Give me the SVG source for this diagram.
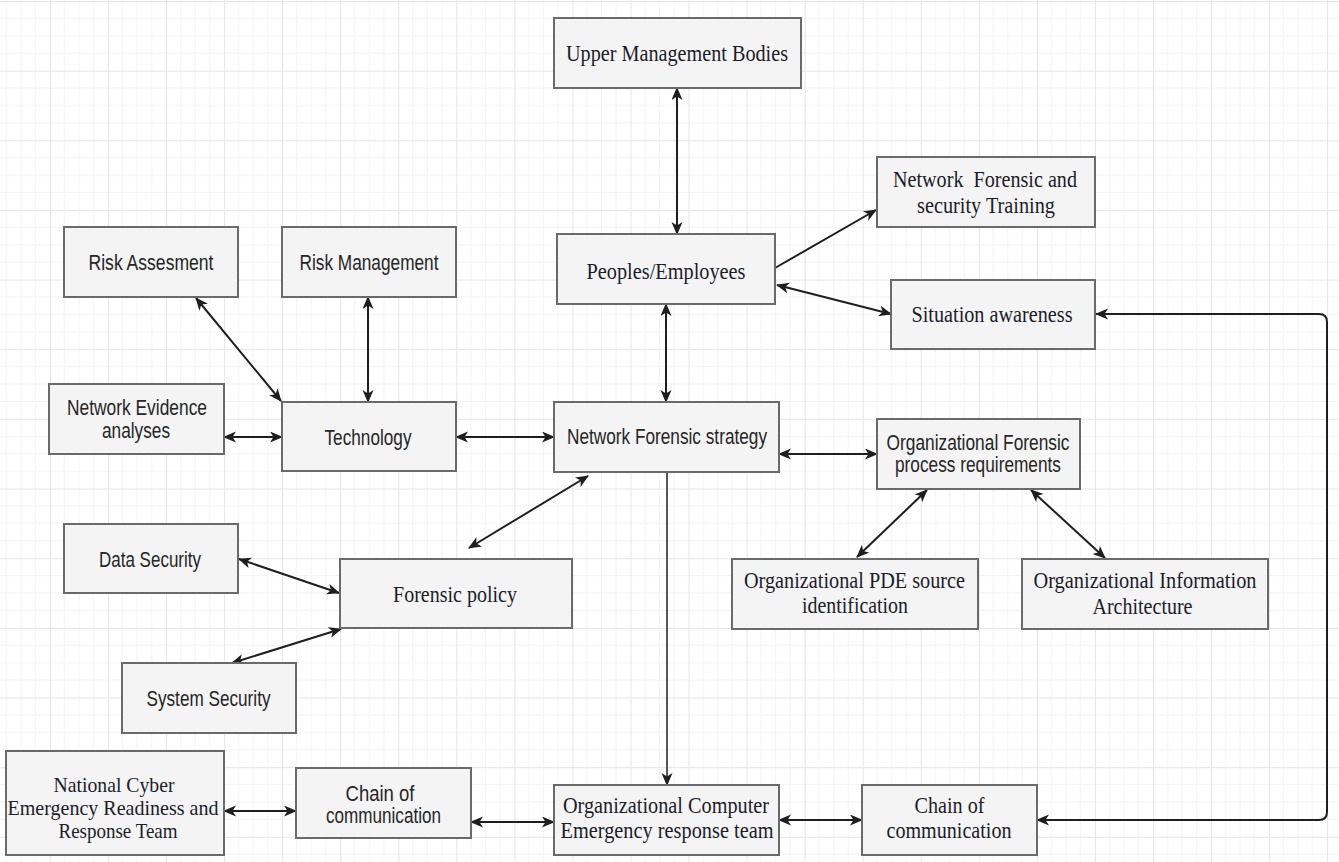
<svg xmlns="http://www.w3.org/2000/svg" width="1339" height="862" viewBox="0 0 1339 862">
  <defs>
    <pattern id="grid" patternUnits="userSpaceOnUse" x="50" y="1" width="58.05" height="69.65">
      <path d="M14.51 0V69.65M29.03 0V69.65M43.54 0V69.65M0 17.41H58.05M0 34.83H58.05M0 52.24H58.05" stroke="#f4f4f4" stroke-width="1" fill="none"/>
      <path d="M0.5 0V69.65M0 0.5H58.05" stroke="#e5e5e5" stroke-width="1" fill="none"/>
    </pattern>
    <marker id="arrow" markerUnits="userSpaceOnUse" markerWidth="14" markerHeight="12" refX="12" refY="5.5" orient="auto-start-reverse">
      <path d="M0,0 L13,5.5 L0,11 L3.5,5.5 Z" fill="#1e1e1e"/>
    </marker>
  </defs>
  <style>
    .box { fill: #f4f4f4; stroke: #6a6a6a; stroke-width: 2; }
    .serif { font-family: "Liberation Serif", "Times New Roman", serif; font-size: 24px; fill: #1c1c2a; text-anchor: middle; }
    .tight { font-size: 21.5px; }
    .sans { font-family: "Liberation Sans", Arial, sans-serif; font-size: 21.5px; fill: #262626; text-anchor: middle; }
    .link { fill: none; stroke: #1e1e1e; stroke-width: 2; }
    .thin { stroke-width: 1.5; }
  </style>

  <rect width="1339" height="862" fill="#ffffff"/>
  <rect width="1339" height="862" fill="url(#grid)"/>

  <g id="connectors">
    <line class="link" x1="677" y1="88" x2="677" y2="234" marker-start="url(#arrow)" marker-end="url(#arrow)"/>
    <line class="link" x1="775" y1="268" x2="876" y2="210" marker-end="url(#arrow)"/>
    <line class="link" x1="777" y1="285" x2="891" y2="314" marker-start="url(#arrow)" marker-end="url(#arrow)"/>
    <line class="link" x1="666" y1="304" x2="666" y2="402" marker-start="url(#arrow)" marker-end="url(#arrow)"/>
    <line class="link" x1="196" y1="298" x2="281" y2="401" marker-start="url(#arrow)" marker-end="url(#arrow)"/>
    <line class="link" x1="368" y1="297" x2="368" y2="402" marker-start="url(#arrow)" marker-end="url(#arrow)"/>
    <line class="link" x1="224" y1="437" x2="282" y2="437" marker-start="url(#arrow)" marker-end="url(#arrow)"/>
    <line class="link" x1="456" y1="437" x2="554" y2="437" marker-start="url(#arrow)" marker-end="url(#arrow)"/>
    <line class="link" x1="779" y1="454" x2="877" y2="454" marker-start="url(#arrow)" marker-end="url(#arrow)"/>
    <line class="link" x1="588" y1="476" x2="469" y2="548" marker-start="url(#arrow)" marker-end="url(#arrow)"/>
    <line class="link" x1="927" y1="490" x2="857" y2="557" marker-start="url(#arrow)" marker-end="url(#arrow)"/>
    <line class="link" x1="1031" y1="490" x2="1105" y2="558" marker-start="url(#arrow)" marker-end="url(#arrow)"/>
    <line class="link" x1="239" y1="559" x2="339" y2="593" marker-start="url(#arrow)" marker-end="url(#arrow)"/>
    <line class="link" x1="232" y1="663" x2="341" y2="629" marker-start="url(#arrow)" marker-end="url(#arrow)"/>
    <line class="link thin" x1="667" y1="472" x2="667" y2="785" marker-end="url(#arrow)"/>
    <line class="link" x1="224" y1="811" x2="296" y2="811" marker-start="url(#arrow)" marker-end="url(#arrow)"/>
    <line class="link" x1="471" y1="822" x2="554" y2="822" marker-start="url(#arrow)" marker-end="url(#arrow)"/>
    <line class="link" x1="779" y1="820" x2="862" y2="820" marker-start="url(#arrow)" marker-end="url(#arrow)"/>
    <path class="link" d="M1037,820 H1319 Q1327,820 1327,812 V322 Q1327,314 1319,314 H1096" marker-start="url(#arrow)" marker-end="url(#arrow)"/>
  </g>

  <g id="upper-management">
    <rect class="box" x="554" y="18" width="247" height="70"/>
    <text class="serif" x="677" y="61" textLength="222" lengthAdjust="spacingAndGlyphs">Upper Management Bodies</text>
  </g>
  <g id="forensic-training">
    <rect class="box" x="877" y="157" width="218" height="70"/>
    <text class="serif" style="white-space:pre" x="985" y="186.5" textLength="184" lengthAdjust="spacingAndGlyphs">Network  Forensic and</text>
    <text class="serif" x="986" y="213" textLength="138" lengthAdjust="spacingAndGlyphs">security Training</text>
  </g>
  <g id="risk-assessment">
    <rect class="box" x="64" y="227" width="174" height="70"/>
    <text class="sans" x="151" y="270" textLength="125" lengthAdjust="spacingAndGlyphs">Risk Assesment</text>
  </g>
  <g id="risk-management">
    <rect class="box" x="282" y="227" width="174" height="70"/>
    <text class="sans" x="369" y="270" textLength="139" lengthAdjust="spacingAndGlyphs">Risk Management</text>
  </g>
  <g id="peoples">
    <rect class="box" x="557" y="234" width="218" height="70"/>
    <text class="serif" x="666" y="278.5" textLength="159" lengthAdjust="spacingAndGlyphs">Peoples/Employees</text>
  </g>
  <g id="situation-awareness">
    <rect class="box" x="891" y="280" width="204" height="69"/>
    <text class="serif" x="992" y="321.5" textLength="161" lengthAdjust="spacingAndGlyphs">Situation awareness</text>
  </g>
  <g id="evidence-analyses">
    <rect class="box" x="49" y="384" width="175" height="70"/>
    <text class="sans" x="137" y="415" textLength="140" lengthAdjust="spacingAndGlyphs">Network Evidence</text>
    <text class="sans" x="136" y="438" textLength="68" lengthAdjust="spacingAndGlyphs">analyses</text>
  </g>
  <g id="technology">
    <rect class="box" x="282" y="402" width="174" height="69"/>
    <text class="sans" x="368" y="445" textLength="87" lengthAdjust="spacingAndGlyphs">Technology</text>
  </g>
  <g id="forensic-strategy">
    <rect class="box" x="554" y="402" width="225" height="70"/>
    <text class="sans" x="667" y="443.5" textLength="200" lengthAdjust="spacingAndGlyphs">Network Forensic strategy</text>
  </g>
  <g id="process-requirements">
    <rect class="box" x="877" y="419" width="203" height="70"/>
    <text class="sans" x="978" y="450" textLength="183" lengthAdjust="spacingAndGlyphs">Organizational Forensic</text>
    <text class="sans" x="978" y="472" textLength="166" lengthAdjust="spacingAndGlyphs">process requirements</text>
  </g>
  <g id="data-security">
    <rect class="box" x="64" y="524" width="174" height="69"/>
    <text class="sans" x="150" y="566.5" textLength="102" lengthAdjust="spacingAndGlyphs">Data Security</text>
  </g>
  <g id="forensic-policy">
    <rect class="box" x="340" y="559" width="232" height="69"/>
    <text class="serif" x="455" y="601.5" textLength="124" lengthAdjust="spacingAndGlyphs">Forensic policy</text>
  </g>
  <g id="pde-source">
    <rect class="box" x="732" y="559" width="246" height="70"/>
    <text class="serif" x="854.5" y="588" textLength="221" lengthAdjust="spacingAndGlyphs">Organizational PDE source</text>
    <text class="serif" x="855" y="613" textLength="106" lengthAdjust="spacingAndGlyphs">identification</text>
  </g>
  <g id="information-architecture">
    <rect class="box" x="1022" y="559" width="246" height="70"/>
    <text class="serif" x="1145" y="588" textLength="223" lengthAdjust="spacingAndGlyphs">Organizational Information</text>
    <text class="serif" x="1142.5" y="613.5" textLength="100" lengthAdjust="spacingAndGlyphs">Architecture</text>
  </g>
  <g id="system-security">
    <rect class="box" x="122" y="663" width="174" height="70"/>
    <text class="sans" x="208.5" y="706" textLength="124" lengthAdjust="spacingAndGlyphs">System Security</text>
  </g>
  <g id="national-cert">
    <rect class="box" x="6" y="751" width="218" height="104"/>
    <text class="serif tight" x="114" y="792" textLength="121" lengthAdjust="spacingAndGlyphs">National Cyber</text>
    <text class="serif tight" x="113" y="815" textLength="211" lengthAdjust="spacingAndGlyphs">Emergency Readiness and</text>
    <text class="serif tight" x="118" y="838" textLength="119" lengthAdjust="spacingAndGlyphs">Response Team</text>
  </g>
  <g id="chain-left">
    <rect class="box" x="296" y="768" width="175" height="70"/>
    <text class="sans" x="380" y="800.5" textLength="69" lengthAdjust="spacingAndGlyphs">Chain of</text>
    <text class="sans" x="383.5" y="822.5" textLength="115" lengthAdjust="spacingAndGlyphs">communication</text>
  </g>
  <g id="organizational-cert">
    <rect class="box" x="554" y="785" width="225" height="70"/>
    <text class="serif" x="666" y="813" textLength="206" lengthAdjust="spacingAndGlyphs">Organizational Computer</text>
    <text class="serif" x="667" y="838" textLength="213" lengthAdjust="spacingAndGlyphs">Emergency response team</text>
  </g>
  <g id="chain-right">
    <rect class="box" x="862" y="785" width="175" height="70"/>
    <text class="serif" x="949.5" y="812.5" textLength="70" lengthAdjust="spacingAndGlyphs">Chain of</text>
    <text class="serif" x="949" y="838" textLength="125" lengthAdjust="spacingAndGlyphs">communication</text>
  </g>
</svg>
